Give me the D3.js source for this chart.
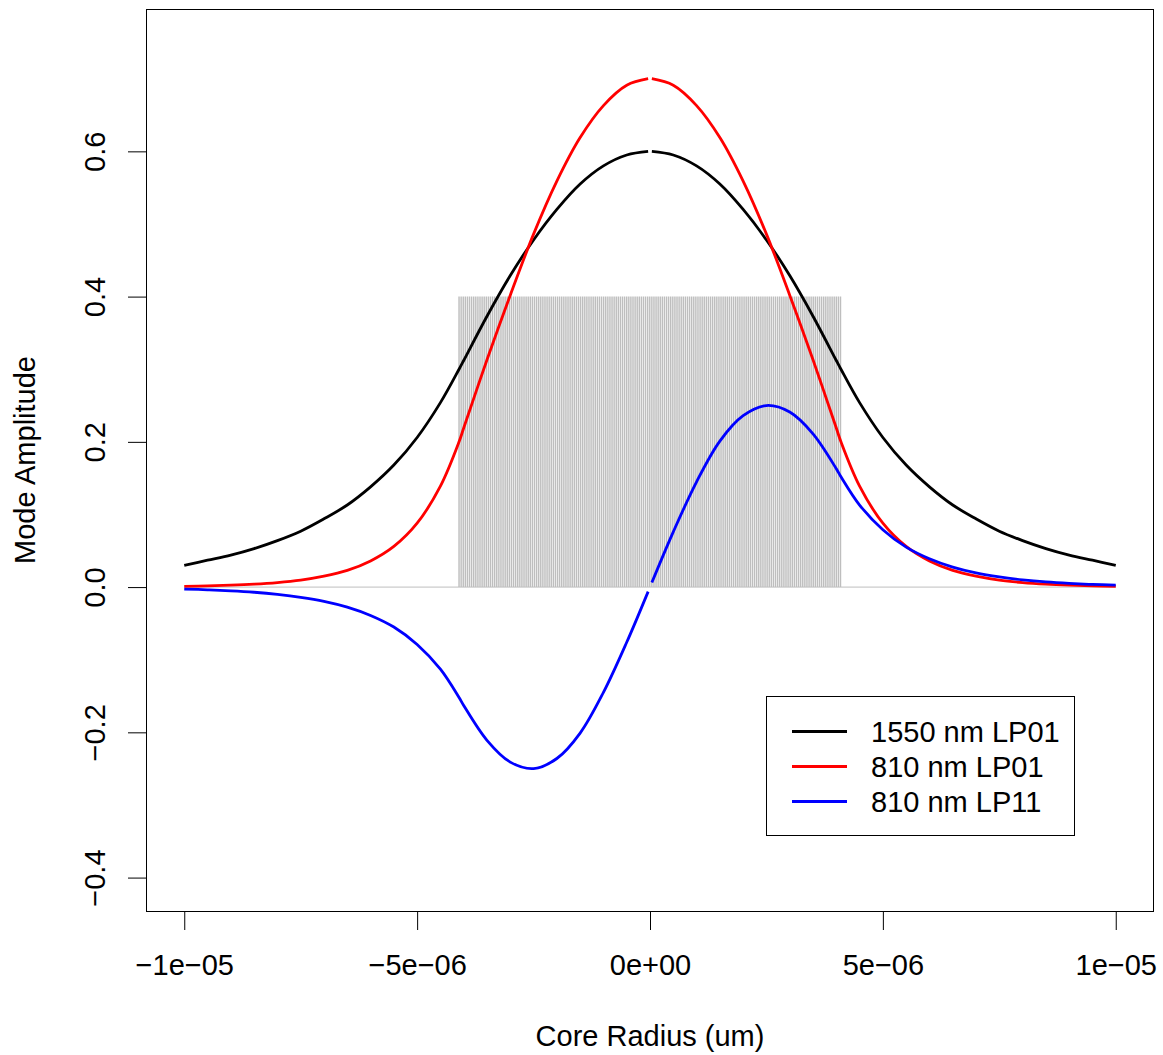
<!DOCTYPE html>
<html>
<head>
<meta charset="utf-8">
<script src="https://cdn.jsdelivr.net/npm/d3@7"></script>
<style>
  body { margin: 0; background: #fff; }
  svg { display: block; font-family: "Liberation Sans", Arial, sans-serif; }
</style>
</head>
<body>
<svg id="chart" width="1163" height="1055"></svg>
<script>
// radius samples (um); curves drawn in two halves, split at r = 0
var radiusUm = [-10, -9.5, -9, -8.5, -8, -7.5, -7, -6.5, -6, -5.5, -5, -4.5, -4.1, -4, -3.5, -3, -2.5, -2, -1.5, -1, -0.5, -0.04,
                0.04, 0.5, 1, 1.5, 2, 2.5, 3, 3.5, 4, 4.1, 4.5, 5, 5.5, 6, 6.5, 7, 7.5, 8, 8.5, 9, 9.5, 10];
var lp01_1550 = [0.030, 0.037, 0.044, 0.053, 0.064, 0.077, 0.094, 0.113, 0.138, 0.168, 0.206, 0.254, 0.300, 0.312, 0.373, 0.429, 0.478, 0.520, 0.555, 0.580, 0.595, 0.600,
                 0.600, 0.595, 0.580, 0.555, 0.520, 0.478, 0.429, 0.373, 0.312, 0.300, 0.254, 0.206, 0.168, 0.138, 0.113, 0.094, 0.077, 0.064, 0.053, 0.044, 0.037, 0.030];
var lp01_810 = [0.0011, 0.0017, 0.0026, 0.0040, 0.0062, 0.0096, 0.015, 0.023, 0.036, 0.056, 0.088, 0.139, 0.200, 0.219, 0.313, 0.402, 0.486, 0.559, 0.619, 0.663, 0.691, 0.700,
                0.700, 0.691, 0.663, 0.619, 0.559, 0.486, 0.402, 0.313, 0.219, 0.200, 0.139, 0.088, 0.056, 0.036, 0.023, 0.015, 0.0096, 0.0062, 0.0040, 0.0026, 0.0017, 0.0011];
var lp11_810 = [-0.0027, -0.0037, -0.0051, -0.0071, -0.010, -0.014, -0.0195, -0.0275, -0.039, -0.055, -0.079, -0.113, -0.152, -0.163, -0.211, -0.241, -0.250, -0.236, -0.201, -0.145, -0.076, -0.0062,
                0.0062, 0.076, 0.145, 0.201, 0.236, 0.250, 0.241, 0.211, 0.163, 0.152, 0.113, 0.079, 0.055, 0.039, 0.0275, 0.0195, 0.014, 0.010, 0.0071, 0.0051, 0.0037, 0.0027];

// core index profile (drawn as dense vertical lines)
var coreRadius = 4.1e-6;
var coreHeight = 0.4;
var profileStep = 0.045e-6;
var profileExtent = [-1e-5, 1e-5];

var xTicks = [-1e-5, -5e-6, 0, 5e-6, 1e-5];
var xTickLabels = ["\u22121e\u221205", "\u22125e\u221206", "0e+00", "5e\u221206", "1e\u221205"];
var yTicks = [-0.4, -0.2, 0, 0.2, 0.4, 0.6];
var yTickLabels = ["\u22120.4", "\u22120.2", "0.0", "0.2", "0.4", "0.6"];

var seriesNames = ["1550 nm LP01", "810 nm LP01", "810 nm LP11"];
var seriesColors = ["#000000", "#ff0000", "#0000ff"];
var seriesValues = [lp01_1550, lp01_810, lp11_810];

(function () {
    var svg = d3.select("#chart");
    var pLeft = 147, pRight = 1153, pTop = 9, pBottom = 911;
    var fs = 29;

    var x = d3.scaleLinear().domain([-1.08e-5, 1.08e-5]).range([pLeft, pRight]);
    var y = d3.scaleLinear().domain([-0.446, 0.796]).range([pBottom, pTop]);

    // gray core profile
    var stripes = d3.range(-coreRadius, coreRadius + profileStep / 2, profileStep);
    svg.append("line")
        .attr("x1", x(profileExtent[0])).attr("x2", x(profileExtent[1]))
        .attr("y1", y(0)).attr("y2", y(0))
        .attr("stroke", "#bebebe").attr("stroke-width", 1);
    svg.append("g").selectAll("line").data(stripes).enter().append("line")
        .attr("x1", function (d) { return x(d); })
        .attr("x2", function (d) { return x(d); })
        .attr("y1", y(0)).attr("y2", y(coreHeight))
        .attr("stroke", "#bebebe").attr("stroke-width", 1.45);

    // mode curves
    var line = d3.line()
        .x(function (d) { return x(d[0] * 1e-6); })
        .y(function (d) { return y(d[1]); })
        .curve(d3.curveCatmullRom.alpha(0.5));

    seriesValues.forEach(function (vals, i) {
        var pts = radiusUm.map(function (r, j) { return [r, vals[j]]; });
        var halves = [pts.filter(function (p) { return p[0] < 0; }), pts.filter(function (p) { return p[0] > 0; })];
        halves.forEach(function (h) {
            svg.append("path")
                .attr("d", line(h))
                .attr("fill", "none")
                .attr("stroke", seriesColors[i])
                .attr("stroke-width", 2.8);
        });
    });

    // axes
    var xAxis = d3.axisBottom(x).tickValues(xTicks)
        .tickFormat(function (d, i) { return xTickLabels[i]; })
        .tickSize(19).tickSizeOuter(0).tickPadding(24);
    var gx = svg.append("g").attr("transform", "translate(0," + pBottom + ")").call(xAxis);
    gx.select(".domain").remove();
    gx.selectAll("text").attr("font-size", fs).attr("fill", "#000").attr("font-family", null);
    gx.selectAll("line").attr("stroke", "#000");

    var yAxis = d3.axisLeft(y).tickValues(yTicks)
        .tickFormat(function (d, i) { return yTickLabels[i]; })
        .tickSize(19).tickSizeOuter(0);
    var gy = svg.append("g").attr("transform", "translate(" + pLeft + ",0)").call(yAxis);
    gy.select(".domain").remove();
    gy.selectAll("line").attr("stroke", "#000");
    gy.selectAll("text")
        .attr("x", null).attr("dy", null)
        .attr("transform", "translate(-42,0) rotate(-90)")
        .attr("text-anchor", "middle")
        .attr("font-size", fs).attr("fill", "#000").attr("font-family", null);

    // plot box
    svg.append("rect")
        .attr("x", pLeft - 0.5).attr("y", pTop + 0.5)
        .attr("width", pRight - pLeft + 1).attr("height", pBottom - pTop)
        .attr("fill", "none").attr("stroke", "#000").attr("stroke-width", 1);

    // axis titles
    svg.append("text")
        .attr("x", x(0)).attr("y", 1046)
        .attr("text-anchor", "middle").attr("font-size", fs)
        .text("Core Radius (um)");
    svg.append("text")
        .attr("transform", "translate(35," + y(0.175) + ") rotate(-90)")
        .attr("text-anchor", "middle").attr("font-size", fs)
        .text("Mode Amplitude");

    // legend
    var lg = svg.append("g");
    lg.append("rect")
        .attr("x", 766.5).attr("y", 696.5).attr("width", 308).attr("height", 139)
        .attr("fill", "#fff").attr("stroke", "#000").attr("stroke-width", 1);
    seriesNames.forEach(function (name, i) {
        var ly = 731.5 + i * 35;
        lg.append("line")
            .attr("x1", 792).attr("x2", 847).attr("y1", ly).attr("y2", ly)
            .attr("stroke", seriesColors[i]).attr("stroke-width", 2.8);
        lg.append("text")
            .attr("x", 871).attr("y", ly + 10.5)
            .attr("font-size", fs)
            .text(name);
    });
})();
</script>
</body>
</html>
